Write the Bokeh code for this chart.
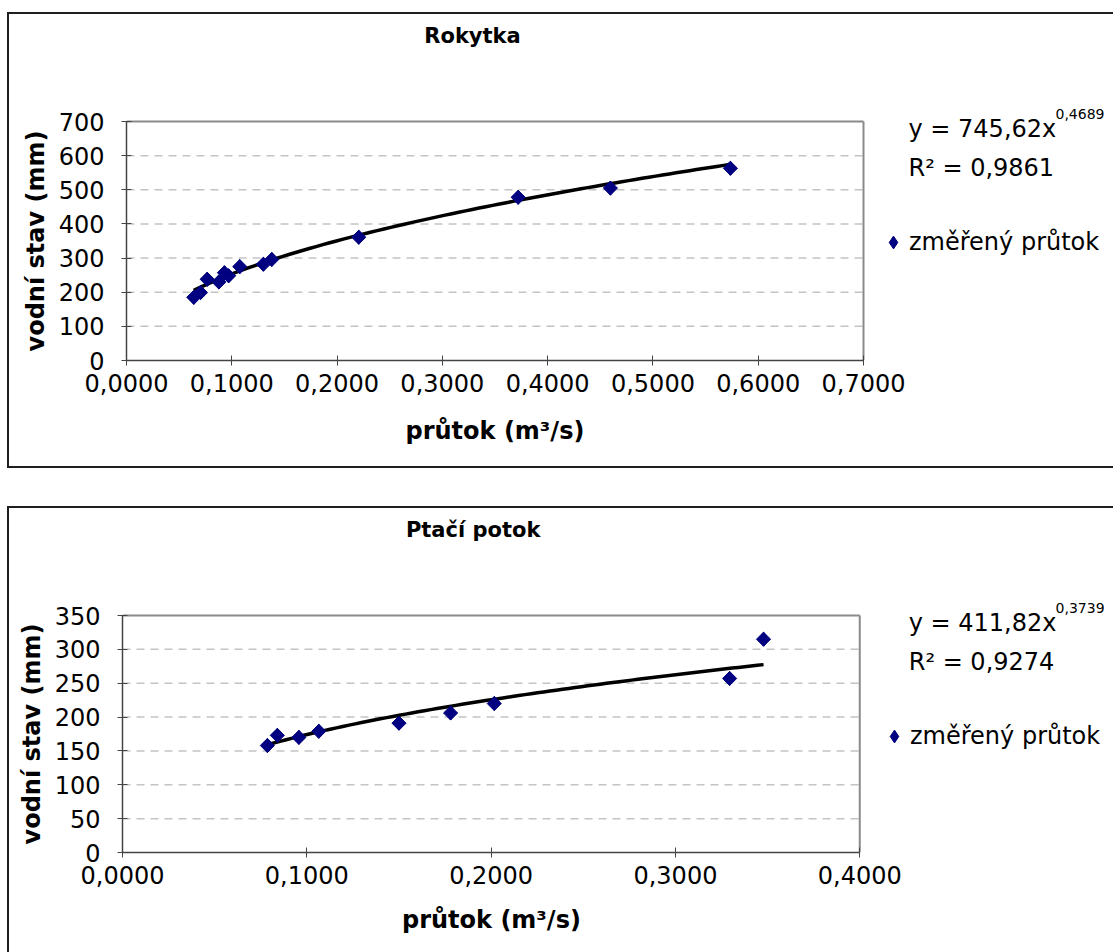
import numpy as np
from bokeh.plotting import figure
from bokeh.models import (Range1d, FixedTicker, CustomJSTickFormatter, Label,
                          Legend, LegendItem, Title)
from bokeh.layouts import column
from bokeh.embed import file_html
from bokeh.resources import INLINE

FONT = "DejaVu Sans"

# ---- data: Rokytka ----
rok_title = "Rokytka"
rok_q = [0.0639, 0.0703, 0.0766, 0.0877, 0.0930, 0.0970, 0.1076, 0.1300, 0.1380,
         0.2206, 0.3720, 0.4596, 0.5736]
rok_h = [185, 199, 238, 230, 257, 248, 275, 282, 296, 361, 478, 505, 563]
rok_a, rok_b = 745.62, 0.4689
rok_eq_main, rok_eq_exp, rok_r2 = "y = 745,62x", "0,4689", "R² = 0,9861"
rok_xticks = [0.0, 0.1, 0.2, 0.3, 0.4, 0.5, 0.6, 0.7]
rok_yticks = [0, 100, 200, 300, 400, 500, 600, 700]

# ---- data: Ptačí potok ----
ptak_title = "Ptačí potok"
ptak_q = [0.0786, 0.0840, 0.0957, 0.1065, 0.1500, 0.1780, 0.2017, 0.3294, 0.3478]
ptak_h = [158, 173, 170, 179, 191, 206, 220, 257, 315]
ptak_a, ptak_b = 411.82, 0.3739
ptak_eq_main, ptak_eq_exp, ptak_r2 = "y = 411,82x", "0,3739", "R² = 0,9274"
ptak_xticks = [0.0, 0.1, 0.2, 0.3, 0.4]
ptak_yticks = [0, 50, 100, 150, 200, 250, 300, 350]

legend_label = "změřený průtok"
x_label = "průtok (m³/s)"
y_label = "vodní stav (mm)"

BOX_LEFT, BOX_RIGHT, BW = 7, 1113, 2
TXT = "24px"
XLAB_W = 179   # approx. rendered width of the bold x label
YLAB_W = 221   # approx. rendered length of the bold y label
NAVY = "#000080"


def make_chart(title, q, h, a, b, eq_main, eq_exp, r2, xticks, yticks,
               box_top, box_bottom, fl, fxr, ft, fb, bottom_border, xlab_standoff):
    # fl/fxr: pixel of first/last x tick; ft/fb: pixel of top/bottom y tick
    in_l, in_r = BOX_LEFT + BW, BOX_RIGHT
    in_t = box_top + BW
    in_b = box_bottom - (BW if bottom_border else 0)
    W, H = in_r - in_l, in_b - in_t
    x0, x1 = xticks[0], xticks[-1]
    y0, y1 = yticks[0], yticks[-1]
    xs = (x1 - x0) / (fxr - fl)
    ys = (y1 - y0) / (fb - ft)

    def px2x(px):
        return x0 + (px - fl) * xs

    def px2y(py):
        return y0 + (fb - py) * ys

    p = figure(width=W, height=H, output_backend="svg", toolbar_location=None,
               title=None,
               x_range=Range1d(x0, px2x(in_r)), y_range=Range1d(y0, px2y(in_t)),
               min_border_left=fl - in_l, min_border_right=0,
               min_border_top=0, min_border_bottom=in_b - fb)
    p.background_fill_color = "white"
    p.border_fill_color = "white"
    p.outline_line_color = None
    p.margin = (BW, 0, BW if bottom_border else 0, BW)
    p.styles = {"background-color": "white"}

    # axes
    p.xaxis.ticker = FixedTicker(ticks=xticks)
    p.xaxis.formatter = CustomJSTickFormatter(code="return tick.toFixed(4).replace('.', ',');")
    p.yaxis.ticker = FixedTicker(ticks=yticks)
    p.xaxis.bounds = (x0, x1)
    p.yaxis.bounds = (y0, y1)
    for ax in (p.xaxis, p.yaxis):
        ax.major_label_text_font = FONT
        ax.major_label_text_font_size = TXT
        ax.major_label_text_color = "black"
        ax.major_tick_in = 5
        ax.major_tick_out = 5
        ax.minor_tick_line_color = None
        ax.major_tick_line_color = "#444444"
        ax.axis_line_color = "#444444"
        ax.axis_line_width = 1.5
    p.xaxis.major_label_standoff = 8
    p.yaxis.major_label_standoff = 17
    p.xgrid.grid_line_color = None
    p.ygrid.grid_line_color = None

    # axis titles (placed in the side panels, centred on the plot area)
    p.add_layout(Title(text=x_label, align="left", offset=(fxr - fl) / 2 - XLAB_W / 2,
                       standoff=xlab_standoff, text_font=FONT, text_font_size=TXT,
                       text_font_style="bold", text_color="black"), "below")
    p.add_layout(Title(text=y_label, align="left", offset=(fb - ft) / 2 - YLAB_W / 2,
                       standoff=12, text_font=FONT, text_font_size=TXT,
                       text_font_style="bold", text_color="black"), "left")

    # dashed horizontal gridlines and grey plot-area edges
    gy = yticks[1:-1]
    p.segment(x0=[x0] * len(gy), x1=[x1] * len(gy), y0=gy, y1=gy,
              line_color="#c4c4c4", line_dash="8 6", line_width=1.5)
    p.segment(x0=[x0, x1], x1=[x1, x1], y0=[y1, y0], y1=[y1, y1],
              line_color="#8a8a8a", line_width=2)

    # power trendline from the shown equation
    tx = np.linspace(min(q), max(q), 80)
    p.line(tx, a * tx ** b, line_color="black", line_width=3.5)

    # measured points: diamond (used as legend key) under a 45-degree square
    key = p.scatter(q, h, marker="diamond", size=14, fill_color=NAVY, line_color=NAVY)
    p.scatter(q, h, marker="square", angle=np.pi / 4, size=10,
              fill_color=NAVY, line_color=NAVY)

    # chart title
    p.add_layout(Label(x=px2x(472), y=px2y(box_top + 23), text=title,
                       text_font=FONT, text_font_size="21px", text_font_style="bold",
                       text_align="center", text_baseline="middle", text_color="black"))
    # equation + R2
    p.add_layout(Label(x=px2x(908), y=px2y(ft + 7), text=eq_main, text_font=FONT,
                       text_font_size=TXT, text_baseline="middle", text_color="black"))
    p.add_layout(Label(x=px2x(1055), y=px2y(ft - 8), text=eq_exp, text_font=FONT,
                       text_font_size="14px", text_baseline="middle", text_color="black"))
    p.add_layout(Label(x=px2x(908), y=px2y(ft + 46), text=r2, text_font=FONT,
                       text_font_size=TXT, text_baseline="middle", text_color="black"))

    # legend
    leg_cy = ft + 121
    gsz = 32
    legend = Legend(items=[LegendItem(label=legend_label, renderers=[key])],
                    location=(893 - gsz / 2 - fl, fb - (leg_cy + gsz / 2)),
                    border_line_color=None, background_fill_alpha=0,
                    padding=0, margin=0, spacing=0,
                    glyph_width=gsz, glyph_height=gsz, label_standoff=0,
                    label_text_font=FONT, label_text_font_size=TXT,
                    label_text_color="black", label_height=gsz)
    p.add_layout(legend)

    box = column(p, styles={"background-color": "#1e1e1e"})
    return box


b1 = make_chart(rok_title, rok_q, rok_h, rok_a, rok_b, rok_eq_main, rok_eq_exp, rok_r2,
                rok_xticks, rok_yticks, box_top=12, box_bottom=468,
                fl=126, fxr=863, ft=121, fb=360, bottom_border=True, xlab_standoff=41)
b2 = make_chart(ptak_title, ptak_q, ptak_h, ptak_a, ptak_b, ptak_eq_main, ptak_eq_exp,
                ptak_r2, ptak_xticks, ptak_yticks, box_top=506, box_bottom=952,
                fl=121, fxr=859, ft=615, fb=852, bottom_border=False, xlab_standoff=35)
b1.margin = (12, 0, 0, BOX_LEFT)
b2.margin = (38, 0, 0, BOX_LEFT)

layout = column(b1, b2, spacing=0)
open("out.html", "w").write(file_html(layout, INLINE))
